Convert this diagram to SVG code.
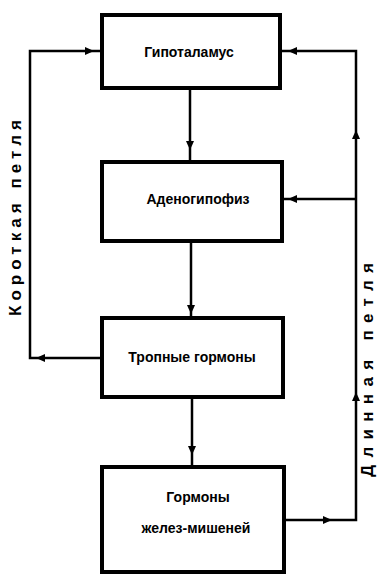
<svg xmlns="http://www.w3.org/2000/svg" width="378" height="576" viewBox="0 0 378 576">
<style>
.box{fill:#fff;stroke:#000;stroke-width:4}
.ln{fill:none;stroke:#000;stroke-width:2.5}
.t{font-family:"Liberation Sans",Arial,sans-serif;font-weight:bold;font-size:14px;fill:#000;text-anchor:middle}
.lp{font-size:17px}
</style>
<defs><path id="ah" d="M0,0 L-9,-4 L-9,4 Z" fill="#000"/></defs>
<rect width="378" height="576" fill="#fff"/>
<g id="connectors">
<path class="ln" d="M102,358 H30 V51 H102"/>
<path class="ln" d="M284,520 H356 V51 H282"/>
<path class="ln" d="M356,199 H282"/>
<path class="ln" d="M190,88 V162"/>
<path class="ln" d="M191,241 V318"/>
<path class="ln" d="M192,397 V467"/>
<use href="#ah" transform="translate(94,51)"/>
<use href="#ah" transform="translate(36,358) rotate(180)"/>
<use href="#ah" transform="translate(288,51) rotate(180)"/>
<use href="#ah" transform="translate(288,199) rotate(180)"/>
<use href="#ah" transform="translate(356,130) rotate(-90)"/>
<use href="#ah" transform="translate(356,392) rotate(-90)"/>
<use href="#ah" transform="translate(332,520)"/>
<use href="#ah" transform="translate(190,150) rotate(90)"/>
<use href="#ah" transform="translate(191,314) rotate(90)"/>
<use href="#ah" transform="translate(192,455) rotate(90)"/>
</g>
<g id="hypothalamus"><rect class="box" x="102" y="15" width="178" height="73"/><text class="t" x="189" y="57">Гипоталамус</text></g>
<g id="adenohypophysis"><rect class="box" x="102" y="162" width="180" height="79"/><text class="t" x="198" y="204">Аденогипофиз</text></g>
<g id="tropic"><rect class="box" x="102" y="318" width="181" height="79"/><text class="t" x="192" y="362">Тропные гормоны</text></g>
<g id="target"><rect class="box" x="102" y="467" width="182" height="105"/><text class="t" x="198" y="502">Гормоны</text><text class="t" x="196" y="533">желез-мишеней</text></g>
<g id="labels">
<text class="t lp" transform="translate(21,218) rotate(-90)" textLength="196" lengthAdjust="spacing">Короткая петля</text>
<text class="t lp" transform="translate(373,370) rotate(-90)" textLength="214" lengthAdjust="spacing">Длинная петля</text>
</g>
</svg>
